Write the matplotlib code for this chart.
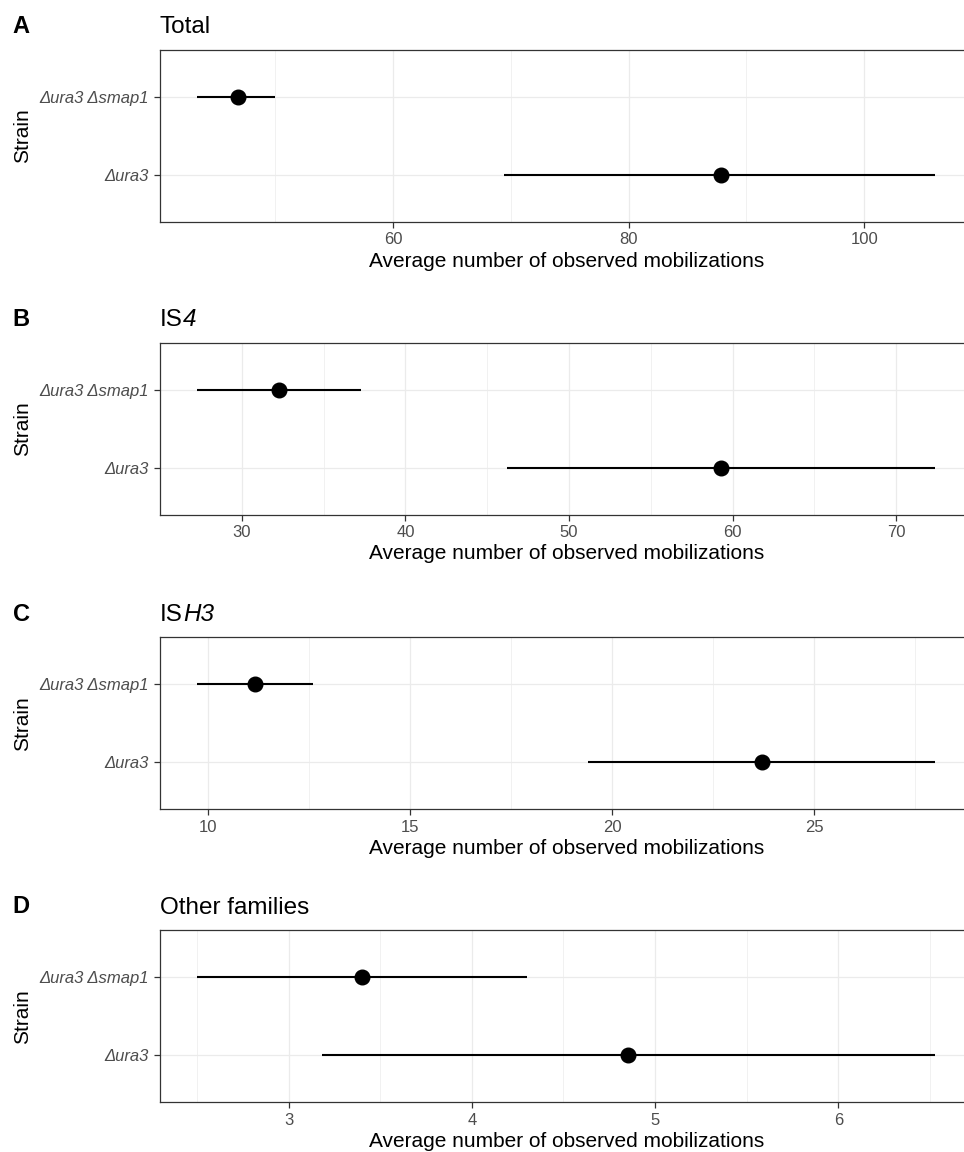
import matplotlib
matplotlib.use("Agg")
import matplotlib.pyplot as plt
from matplotlib.ticker import MultipleLocator

plt.rcParams["font.family"] = ["Liberation Sans", "DejaVu Sans"]

strains = ["Δura3", "Δura3 Δsmap1"]

total_mean = [87.8, 46.8]
total_lo = [69.4, 43.35]
total_hi = [106.05, 50.0]

is4_mean = [59.3, 32.25]
is4_lo = [46.2, 27.25]
is4_hi = [72.4, 37.25]

ish3_mean = [23.7, 11.16]
ish3_lo = [19.4, 9.73]
ish3_hi = [28.0, 12.6]

other_mean = [4.85, 3.40]
other_lo = [3.185, 2.50]
other_hi = [6.53, 4.30]

# title = upright part + italic part
panels = [
    ("A", "Total", "", total_mean, total_lo, total_hi, 20, 10),
    ("B", "IS", "4", is4_mean, is4_lo, is4_hi, 10, 5),
    ("C", "IS", "H3", ish3_mean, ish3_lo, ish3_hi, 5, 2.5),
    ("D", "Other families", "", other_mean, other_lo, other_hi, 1, 0.5),
]

W, H = 964, 1152
fig = plt.figure(figsize=(W / 100, H / 100), dpi=100)

axes_tops = [50, 342.7, 637.3, 930.3]
letter_base = [33, 326, 620.7, 913.3]
ax_h = 172
ax_left = 160
ax_w = 812.4
title_size = 17.5

for (letter, title, title_it, mean, lo, hi, major, minor), top, lb in zip(panels, axes_tops, letter_base):
    ax = fig.add_axes([ax_left / W, 1 - (top + ax_h) / H, ax_w / W, ax_h / H])
    ypos = list(range(1, len(strains) + 1))

    ax.hlines(ypos, lo, hi, color="black", lw=1.5, zorder=3)
    ax.plot(mean, ypos, "o", color="black", markersize=10.5, zorder=4)

    xmin, xmax = min(lo), max(hi)
    pad = 0.05 * (xmax - xmin)
    ax.set_xlim(xmin - pad, xmax + pad)
    ax.set_ylim(0.4, len(strains) + 0.6)

    ax.xaxis.set_major_locator(MultipleLocator(major))
    ax.xaxis.set_minor_locator(MultipleLocator(minor))
    ax.set_yticks(ypos)
    ax.set_yticklabels(strains, fontstyle="italic")

    ax.grid(True, which="major", color="#EBEBEB", lw=0.9, zorder=0)
    ax.grid(True, which="minor", axis="x", color="#EBEBEB", lw=0.5, zorder=0)
    ax.set_axisbelow(True)

    for sp in ax.spines.values():
        sp.set_color("#333333")
        sp.set_linewidth(0.9)

    ax.tick_params(axis="both", which="major", length=4.3, width=0.9,
                   color="#333333", labelcolor="#4D4D4D", labelsize=12)
    ax.tick_params(axis="x", which="major", pad=3.2)
    ax.tick_params(axis="y", which="major", pad=3.6)
    ax.tick_params(axis="x", which="minor", length=0)

    ax.set_xlabel("Average number of observed mobilizations", fontsize=15, labelpad=3)
    ax.set_ylabel("Strain", fontsize=15)
    ax.yaxis.set_label_coords(-0.158, 0.5)

    t = ax.set_title(title, loc="left", fontsize=title_size, pad=12)
    if title_it:
        ax.annotate(title_it, xy=(1, 0), xycoords=t, fontsize=title_size,
                    fontstyle="italic", ha="left", va="bottom")
    fig.text(12.7 / W, 1 - lb / H, letter, fontsize=17, fontweight="bold",
             ha="left", va="baseline")

fig.savefig("out.png", dpi=100)
